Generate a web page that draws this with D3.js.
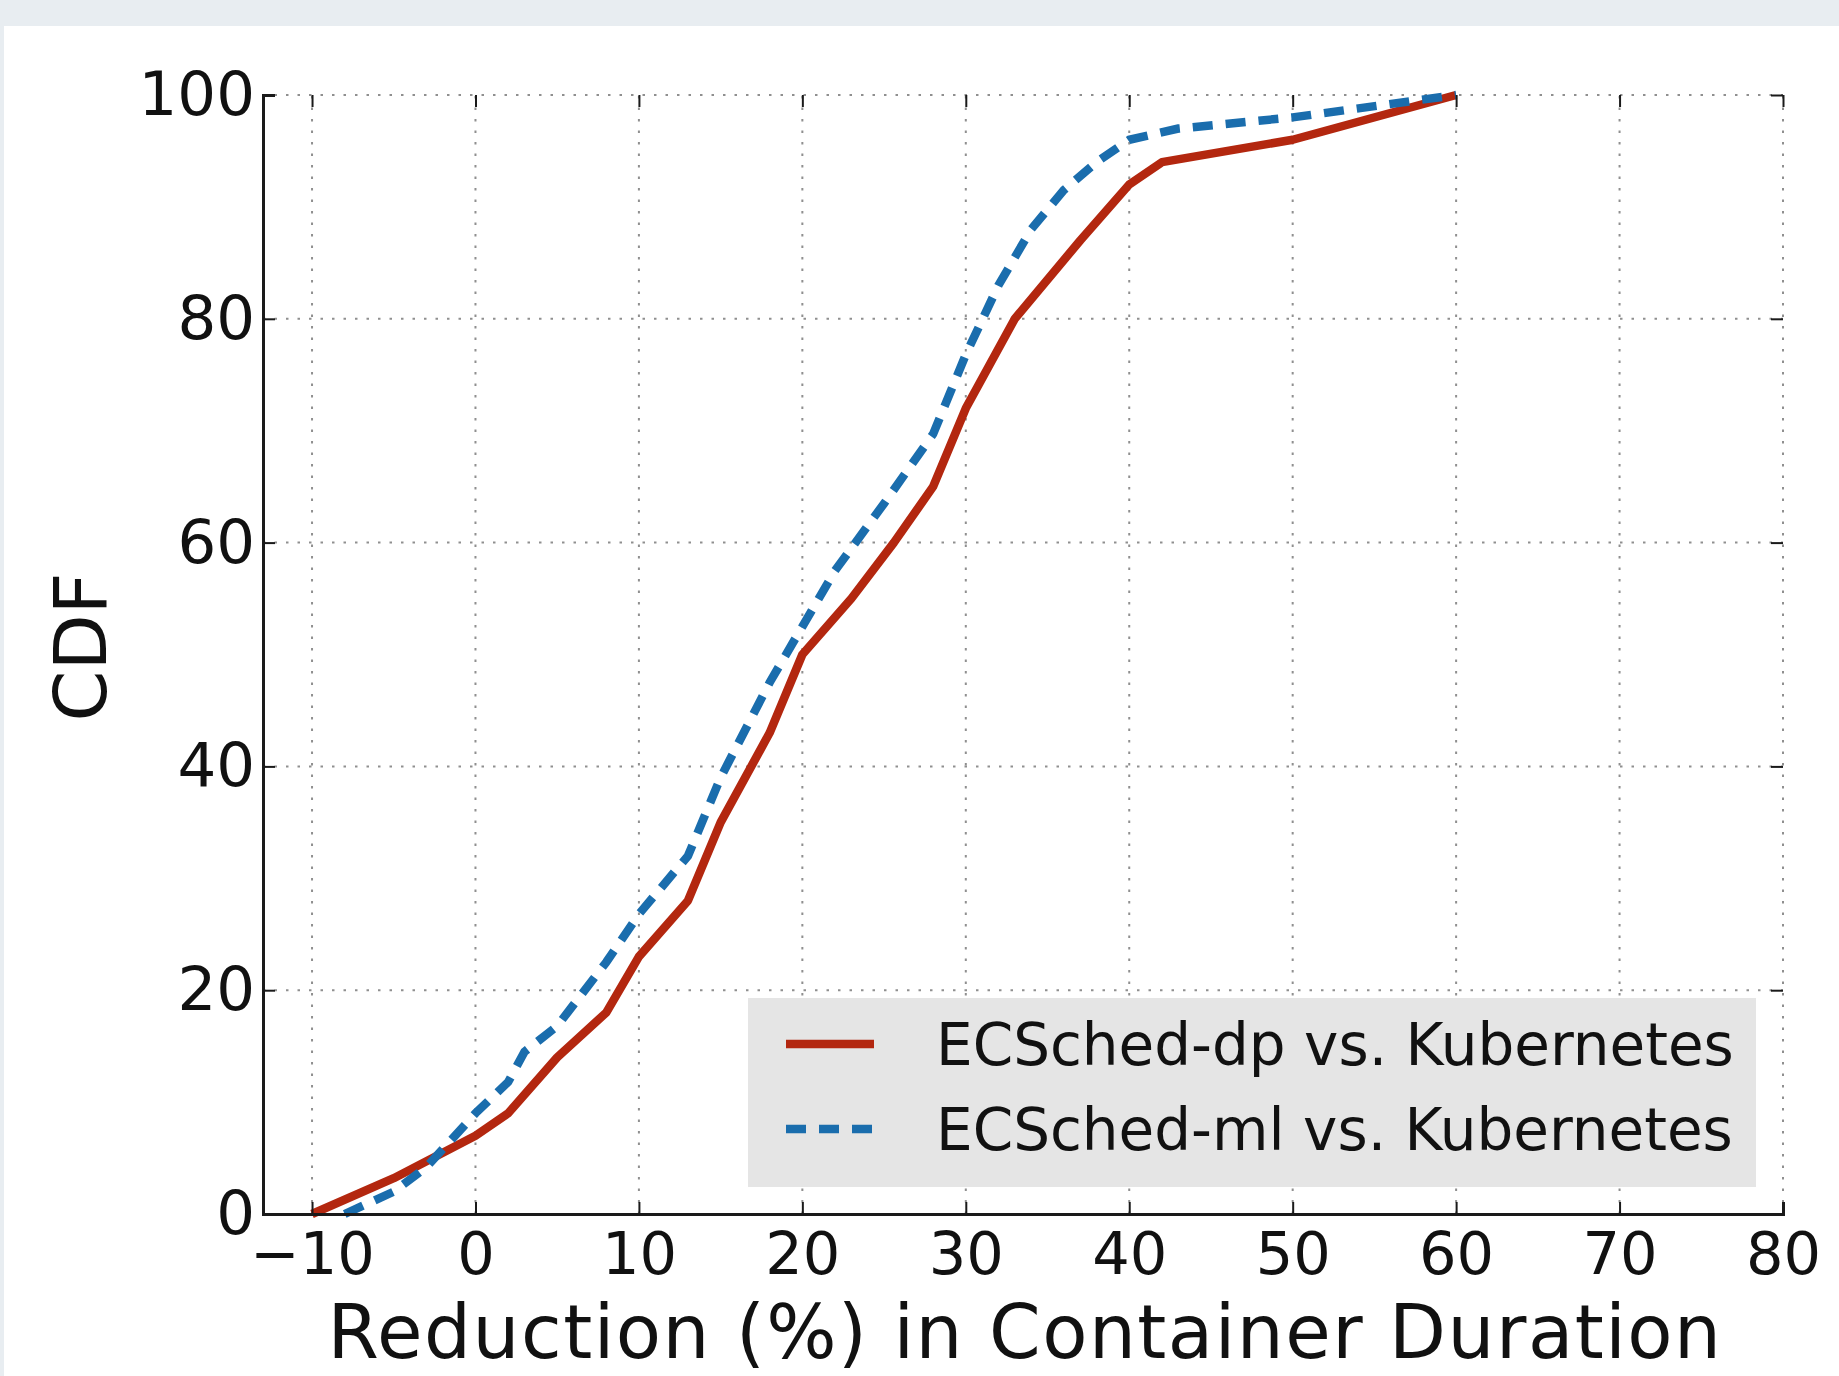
<!DOCTYPE html>
<html>
<head>
<meta charset="utf-8">
<script src="https://cdn.jsdelivr.net/npm/d3@7"></script>
<style>
  html, body { margin: 0; padding: 0; background: #e8edf1; }
  svg { display: block; font-family: "DejaVu Sans", sans-serif; }
</style>
</head>
<body>
<svg id="chart" width="1839" height="1376"></svg>
<script>
// ---- data ----
const seriesNames = ["ECSched-dp vs. Kubernetes", "ECSched-ml vs. Kubernetes"];
const dpX = [-10, -5, 0, 2, 5, 8, 10, 13, 15, 18, 20, 23, 25.6, 28, 30, 33, 37, 40, 42, 50, 60];
const dpY = [0, 3.2, 7, 9, 14, 18, 23, 28, 35, 43, 50, 55, 60, 65, 72, 80, 87, 92, 94, 96, 100];
const mlX = [-8, -5, -3, 0, 2, 3, 5, 8, 10, 13, 15, 18, 20, 22, 25, 28, 30, 32, 34, 36, 38, 40, 43, 50, 60];
const mlY = [0, 2, 4.2, 9, 11.8, 14.5, 16.8, 22.5, 26.8, 32, 39, 47.5, 52.5, 57.5, 63.5, 69.7, 76.8, 83, 88, 91.5, 94, 96, 97, 98, 100];
const xTicks = [-10, 0, 10, 20, 30, 40, 50, 60, 70, 80];
const yTicks = [0, 20, 40, 60, 80, 100];
const xLabel = "Reduction (%) in Container Duration";
const yLabel = "CDF";

// ---- layout ----
const svg = d3.select("#chart");
svg.append("rect").attr("x", 4).attr("y", 26).attr("width", 1835).attr("height", 1350).attr("fill", "#ffffff");

const L = 263, R = 1783, T = 95, B = 1214;
const x = d3.scaleLinear().domain([-13, 80]).range([L, R]);
const y = d3.scaleLinear().domain([0, 100]).range([B, T]);

// grid
const grid = svg.append("g").attr("stroke", "#8f8f8f").attr("stroke-width", 2).attr("stroke-dasharray", "2.5,9");
grid.selectAll("line.v").data(xTicks).join("line")
  .attr("x1", d => x(d)).attr("x2", d => x(d)).attr("y1", B).attr("y2", T);
grid.selectAll("line.h").data(yTicks).join("line")
  .attr("x1", L).attr("x2", R).attr("y1", d => y(d)).attr("y2", d => y(d));

// lines
const line = d3.line().x(d => x(d[0])).y(d => y(d[1]));
const dpData = dpX.map((v, i) => [v, dpY[i]]);
const mlData = mlX.map((v, i) => [v, mlY[i]]);
const redC = "#b3270f", blueC = "#1a6dad";
svg.append("path").datum(dpData).attr("d", line).attr("fill", "none")
  .attr("stroke", redC).attr("stroke-width", 8.5).attr("stroke-linejoin", "round");
svg.append("path").datum(mlData).attr("d", line).attr("fill", "none")
  .attr("stroke", blueC).attr("stroke-width", 8.5).attr("stroke-dasharray", "20,13");

// axes
const gx = svg.append("g").attr("transform", `translate(0,${B})`)
  .call(d3.axisBottom(x).tickValues(xTicks).tickSize(-12).tickPadding(18).tickFormat(d => d < 0 ? "\u2212" + Math.abs(d) : d));
const gy = svg.append("g").attr("transform", `translate(${L},0)`)
  .call(d3.axisLeft(y).tickValues(yTicks).tickSize(-12).tickPadding(8));
const gt = svg.append("g").attr("transform", `translate(0,${T})`)
  .call(d3.axisTop(x).tickValues(xTicks).tickSize(-12).tickFormat(""));
const gr = svg.append("g").attr("transform", `translate(${R},0)`)
  .call(d3.axisRight(y).tickValues(yTicks).tickSize(-12).tickFormat(""));
[gx, gy].forEach(g => {
  g.select(".domain").attr("stroke", "#1a1a1a").attr("stroke-width", 3);
  g.selectAll(".tick line").attr("stroke", "#1a1a1a").attr("stroke-width", 2);
  g.selectAll(".tick text").attr("fill", "#111").attr("font-family", "DejaVu Sans");
});
gx.selectAll(".tick text").attr("font-size", 59);
gy.selectAll(".tick text").attr("font-size", 61);
[gt, gr].forEach(g => {
  g.select(".domain").remove();
  g.selectAll(".tick line").attr("stroke", "#1a1a1a").attr("stroke-width", 2);
});

// axis labels
svg.append("text").attr("x", (326 + 1724) / 2).attr("y", 1358).attr("text-anchor", "middle")
  .attr("font-size", 74).attr("letter-spacing", 1.5).attr("fill", "#111").text(xLabel);
svg.append("text").attr("transform", `translate(106,647) rotate(-90)`).attr("text-anchor", "middle")
  .attr("font-size", 73).attr("fill", "#111").text(yLabel);

// legend
const lg = svg.append("g");
lg.append("rect").attr("x", 748).attr("y", 998).attr("width", 1008).attr("height", 189).attr("fill", "#e5e5e5");
const rows = [{ name: seriesNames[0], c: redC, dash: null, cy: 1044 }, { name: seriesNames[1], c: blueC, dash: "20,13", cy: 1129 }];
rows.forEach(r => {
  lg.append("line").attr("x1", 786).attr("x2", 874).attr("y1", r.cy).attr("y2", r.cy)
    .attr("stroke", r.c).attr("stroke-width", 8.5).attr("stroke-dasharray", r.dash);
  lg.append("text").attr("x", 936).attr("y", r.cy + 21).attr("font-size", 58).attr("fill", "#111").text(r.name);
});
</script>
</body>
</html>
